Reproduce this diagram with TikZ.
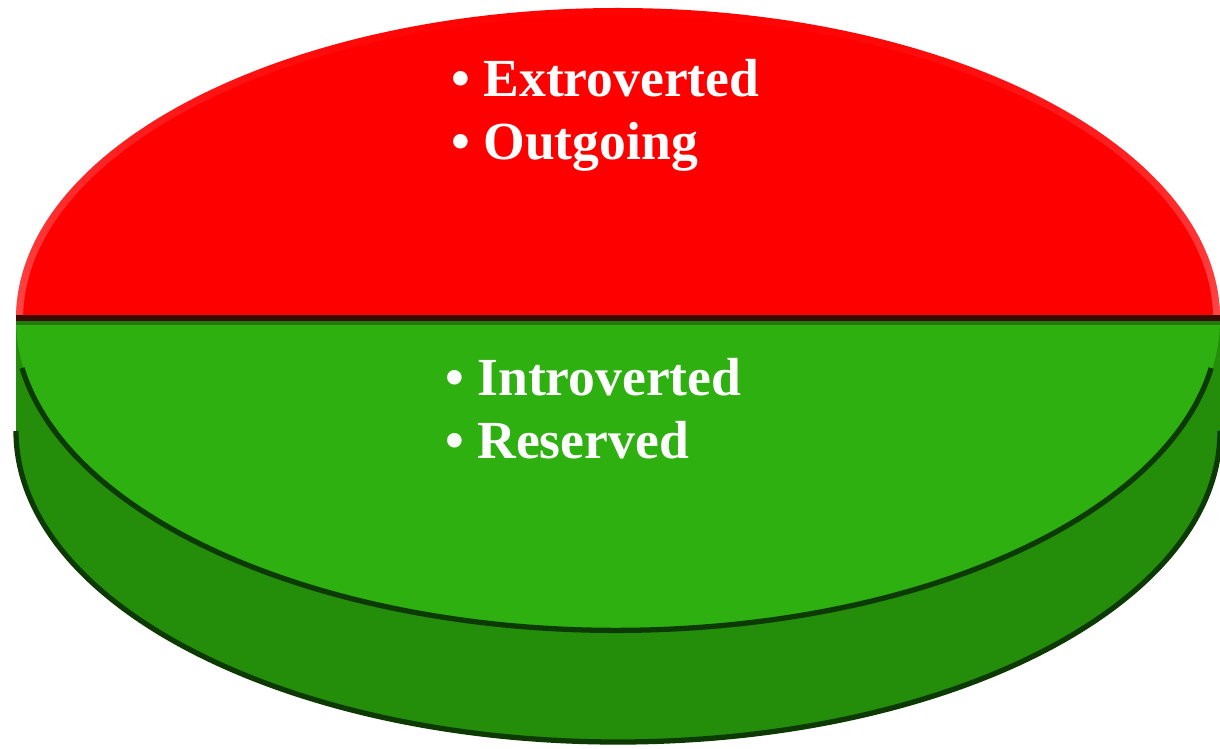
\documentclass[tikz,border=0pt]{standalone}
\usepackage{fontspec}
\setmainfont{Liberation Serif}
\usetikzlibrary{fadings}
\definecolor{pieRed}{HTML}{FF0000}
\definecolor{pieGreen}{HTML}{2DB010}
\definecolor{pieSide}{HTML}{248E0B}
\definecolor{rimDark}{HTML}{0C3A02}
\definecolor{cutDark}{HTML}{3A0A00}
\tikzset{
  label/.style={anchor=base west, text=white, inner sep=0pt,
    font=\fontsize{30.5}{36}\selectfont\bfseries},
}
\begin{document}
\begin{tikzpicture}[x=0.02cm,y=0.02cm]
  \useasboundingbox (0,0) rectangle (1220,748);
  \clip (0,0) rectangle (1220,748);

  % side of the disc
  \fill[pieSide] (16,429) -- (16,317)
    arc[start angle=180, end angle=360, x radius=602, y radius=311]
    -- (1220,429) -- cycle;
  \draw[rimDark, line width=3] (16,317)
    arc[start angle=180, end angle=360, x radius=602, y radius=311];

  % top face
  \fill[pieRed] (16,429)
    arc[start angle=180, end angle=0, x radius=602, y radius=311] -- cycle;
  \fill[pieGreen] (16,429)
    arc[start angle=180, end angle=360, x radius=602, y radius=311] -- cycle;

  % soft highlight along the top of the rim
  \begin{scope}
    \clip (16,429)
      arc[start angle=180, end angle=0, x radius=602, y radius=311] -- cycle;
    \draw[pieRed!45!white, line width=8, path fading=north] (618,429)
      ellipse [x radius=602, y radius=311];
  \end{scope}

  \draw[rimDark, line width=3] (22,380)
    arc[start angle=189, end angle=351, x radius=602, y radius=311];
  \draw[cutDark, line width=4] (16,429) -- (1220,429);
  \draw[pieGreen!70!black, line width=2] (16,425) -- (1220,425);

  % labels
  \node[label] (extro) at (451,651) {• Extroverted};
  \node[label] (outgo) at (451,588) {• Outgoing};
  \node[label] (intro) at (445,353) {• Introverted};
  \node[label] (reser) at (445,290) {• Reserved};
\end{tikzpicture}
\end{document}
